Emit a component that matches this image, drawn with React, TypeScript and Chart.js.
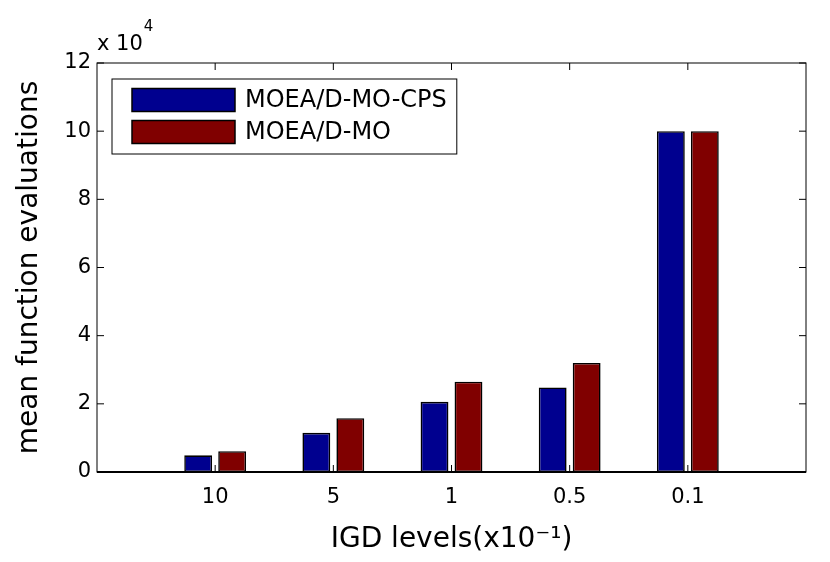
import React, { useEffect, useRef } from 'react';
import { Chart, registerables, Plugin } from 'chart.js';

Chart.register(...registerables);

Chart.defaults.font.family = '"DejaVu Sans", "Liberation Sans", sans-serif';
Chart.defaults.color = '#000';

// IGD levels (x10^-1); empty labels pad both ends like the MATLAB axis
const igdLevels = ['', '10', '5', '1', '0.5', '0.1', ''];
// mean function evaluations (x10^4)
const cpsEvaluations = [null, 0.49, 1.15, 2.06, 2.48, 10.0, null];
const moEvaluations = [null, 0.61, 1.58, 2.65, 3.2, 10.0, null];
const yTicks = [0, 2, 4, 6, 8, 10, 12];
const seriesNames = ['MOEA/D-MO-CPS', 'MOEA/D-MO'];
const seriesColors = ['#00008f', '#800000'];

// box, inward ticks, legend and the x 10^4 multiplier
const matlabFrame: Plugin<'bar'> = {
  id: 'matlabFrame',
  afterDraw(chart) {
    const { ctx, chartArea: a, scales } = chart;
    const x = scales.x;
    const y = scales.y;
    ctx.save();
    ctx.strokeStyle = '#000';
    ctx.lineWidth = 1;
    ctx.strokeRect(a.left, a.top, a.right - a.left, a.bottom - a.top);
    ctx.lineWidth = 1.8;
    ctx.beginPath();
    ctx.moveTo(a.left, a.bottom);
    ctx.lineTo(a.right, a.bottom);
    ctx.stroke();

    ctx.lineWidth = 1;
    ctx.beginPath();
    x.ticks.forEach((t, i) => {
      if (!igdLevels[t.value]) return;
      const px = x.getPixelForTick(i);
      ctx.moveTo(px, a.bottom);
      ctx.lineTo(px, a.bottom - 7);
      ctx.moveTo(px, a.top);
      ctx.lineTo(px, a.top + 7);
    });
    y.ticks.forEach((t) => {
      const py = y.getPixelForValue(t.value);
      ctx.moveTo(a.left, py);
      ctx.lineTo(a.left + 7, py);
      ctx.moveTo(a.right, py);
      ctx.lineTo(a.right - 7, py);
    });
    ctx.stroke();

    // legend
    const lx = a.left + 15;
    const ly = a.top + 16;
    ctx.font = '24px "DejaVu Sans"';
    const names = chart.data.datasets.map((d) => String(d.label));
    const textW = Math.max(...names.map((n) => ctx.measureText(n).width));
    const boxW = 135 + textW + 8;
    ctx.fillStyle = '#fff';
    ctx.fillRect(lx, ly, boxW, 75);
    ctx.strokeRect(lx, ly, boxW, 75);
    chart.data.datasets.forEach((ds, i) => {
      const sy = ly + 9.5 + i * 32;
      ctx.fillStyle = ds.backgroundColor as string;
      ctx.fillRect(lx + 20, sy, 103, 23);
      ctx.lineWidth = 1.5;
      ctx.strokeRect(lx + 20, sy, 103, 23);
      ctx.fillStyle = '#000';
      ctx.textBaseline = 'middle';
      ctx.textAlign = 'left';
      ctx.fillText(names[i], lx + 133, sy + 12);
    });

    // exponent label
    ctx.textBaseline = 'alphabetic';
    ctx.font = '21px "DejaVu Sans"';
    const base = 'x 10';
    ctx.fillText(base, a.left, a.top - 13);
    const bw = ctx.measureText(base).width;
    ctx.font = '15px "DejaVu Sans"';
    ctx.fillText('4', a.left + bw + 1, a.top - 32);
    ctx.restore();
  },
};

const EvaluationsChart: React.FC = () => {
  const chartRef = useRef<HTMLCanvasElement>(null);
  const chartInstanceRef = useRef<Chart<'bar'> | null>(null);

  useEffect(() => {
    if (!chartRef.current) return;
    if (chartInstanceRef.current) {
      chartInstanceRef.current.destroy();
    }
    const ctx = chartRef.current.getContext('2d');
    if (!ctx) return;
    chartInstanceRef.current = new Chart(ctx, {
      type: 'bar',
      data: {
        labels: igdLevels,
        datasets: [
          {
            label: seriesNames[0],
            data: cpsEvaluations,
            backgroundColor: seriesColors[0],
            borderColor: '#000',
            borderWidth: 1.6,
            borderSkipped: false,
          },
          {
            label: seriesNames[1],
            data: moEvaluations,
            backgroundColor: seriesColors[1],
            borderColor: '#000',
            borderWidth: 1.6,
            borderSkipped: false,
          },
        ],
      },
      options: {
        responsive: true,
        maintainAspectRatio: false,
        animation: false,
        categoryPercentage: 0.575,
        barPercentage: 0.82,
        layout: { padding: { left: 0, top: 63, right: 24, bottom: 0 } },
        plugins: {
          legend: { display: false },
          tooltip: { enabled: false },
        },
        scales: {
          x: {
            offset: false,
            grid: { display: false, drawTicks: false },
            border: { display: false },
            ticks: { font: { size: 21 }, padding: 13, maxRotation: 0, autoSkip: false },
            title: {
              display: true,
              text: 'IGD levels(x10⁻¹)',
              font: { size: 28 },
              padding: { top: 0, bottom: 5 },
            },
            afterFit: (s) => {
              s.height = 90;
            },
          },
          y: {
            min: 0,
            max: 12,
            grid: { display: false, drawTicks: false },
            border: { display: false },
            afterBuildTicks: (s) => {
              s.ticks = yTicks.map((v) => ({ value: v }));
            },
            ticks: { font: { size: 21 }, padding: 6 },
            title: {
              display: true,
              text: 'mean function evaluations',
              font: { size: 28 },
              padding: { top: 13, bottom: 0 },
            },
            afterFit: (s) => {
              s.width = 97;
            },
          },
        },
      },
      plugins: [matlabFrame],
    });
    return () => {
      if (chartInstanceRef.current) {
        chartInstanceRef.current.destroy();
        chartInstanceRef.current = null;
      }
    };
  }, []);

  return (
    <div style={{ position: 'absolute', left: 0, top: 0, width: 830, height: 562, background: '#fff' }}>
      <canvas ref={chartRef}></canvas>
    </div>
  );
};

export default function App() {
  return <EvaluationsChart />;
}
